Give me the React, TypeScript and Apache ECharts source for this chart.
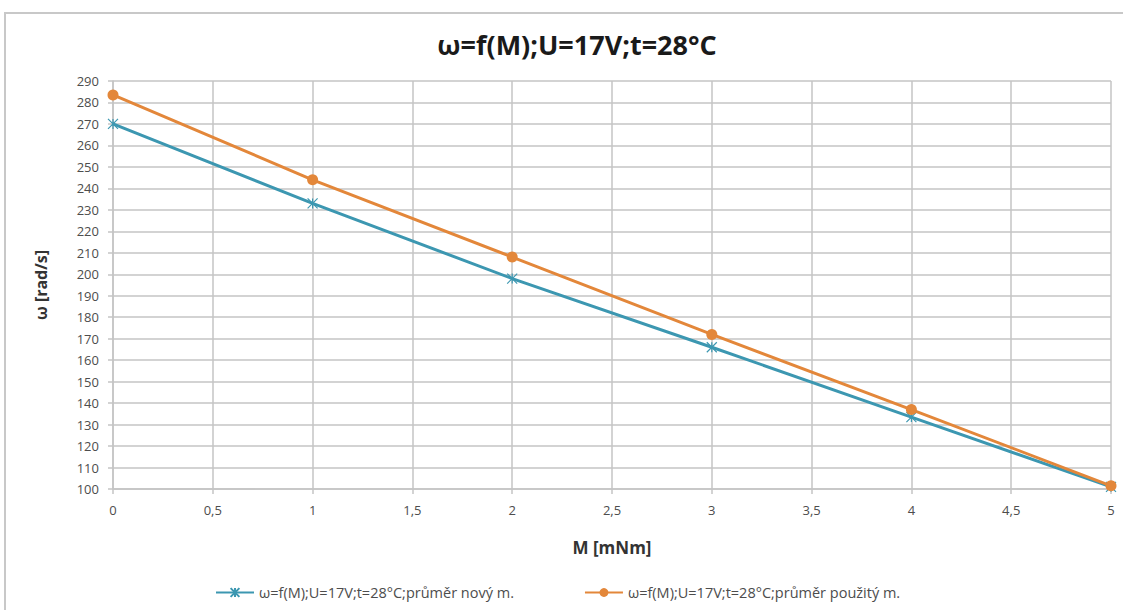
import React, { useEffect, useRef } from "react";
import * as echarts from "echarts";

const mValues = [0, 1, 2, 3, 4, 5];
const omegaNew = [270, 233, 198, 166, 133.5, 101];
const omegaUsed = [283.5, 244, 208, 172, 137, 101.5];
const seriesNames = [
  "ω=f(M);U=17V;t=28°C;průměr nový m.",
  "ω=f(M);U=17V;t=28°C;průměr použitý m.",
];
const titleText = "ω=f(M);U=17V;t=28°C";
const xName = "M [mNm]";
const yName = "ω [rad/s]";

const BLUE = "#3C97B1";
const ORANGE = "#E3873A";
const GRID = "#c4c4c4";
const LABEL = "#4d4d4d";

export default function App() {
  const ref = useRef<HTMLDivElement>(null);
  useEffect(() => {
    if (!ref.current) return;
    const chart = echarts.init(ref.current, null, { renderer: "svg" });
    const font = "'Open Sans', 'DejaVu Sans', sans-serif";
    chart.setOption({
      animation: false,
      backgroundColor: "#ffffff",
      textStyle: { fontFamily: font },
      title: {
        text: titleText,
        left: 572,
        textAlign: "center",
        top: 26,
        textStyle: { fontSize: 27, fontWeight: "bold", color: "#1a1a1a", fontFamily: font },
      },
      graphic: [
        {
          type: "rect",
          shape: { x: 5, y: 13, width: 1140, height: 620 },
          style: { fill: "none", stroke: "#c8c8c8", lineWidth: 2 },
          silent: true,
        },
      ],
      legend: {
        orient: "horizontal",
        bottom: 5,
        left: 210,
        itemWidth: 38,
        itemHeight: 11,
        itemGap: 70,
        textStyle: { fontSize: 14.5, color: LABEL, fontFamily: font },
        data: seriesNames,
      },
      grid: { left: 113, right: 12, top: 81, bottom: 121 },
      xAxis: {
        type: "value",
        min: 0,
        max: 5,
        interval: 0.5,
        name: xName,
        nameLocation: "middle",
        nameGap: 50,
        nameTextStyle: { fontSize: 17, fontWeight: "bold", color: "#333", fontFamily: font },
        axisLine: { show: true, lineStyle: { color: GRID, width: 1.5 } },
        axisTick: { show: true, length: 5, lineStyle: { color: GRID, width: 1.5 } },
        splitLine: { show: true, lineStyle: { color: GRID, width: 1.5 } },
        axisLabel: {
          fontSize: 13,
          color: LABEL,
          margin: 14,
          formatter: (v: number) => String(v).replace(".", ","),
        },
      },
      yAxis: {
        type: "value",
        min: 100,
        max: 290,
        interval: 10,
        name: yName,
        nameLocation: "middle",
        nameGap: 64,
        nameRotate: 90,
        nameTextStyle: { fontSize: 16, fontWeight: "bold", color: "#333", fontFamily: font },
        axisLine: { show: true, lineStyle: { color: GRID, width: 1.5 } },
        axisTick: { show: true, length: 5, lineStyle: { color: GRID, width: 1.5 } },
        splitLine: { show: true, lineStyle: { color: GRID, width: 1.5 } },
        axisLabel: { fontSize: 13, color: LABEL, margin: 14 },
      },
      series: [
        {
          name: seriesNames[0],
          type: "line",
          data: mValues.map((m, i) => [m, omegaNew[i]]),
          symbol: "path://M0,0 L10,10 M10,0 L0,10 M5,0 L5,10",
          symbolSize: 10,
          showAllSymbol: true,
          lineStyle: { color: BLUE, width: 3 },
          itemStyle: { color: "none", borderColor: BLUE, borderWidth: 1.2 },
          z: 3,
        },
        {
          name: seriesNames[1],
          type: "line",
          data: mValues.map((m, i) => [m, omegaUsed[i]]),
          symbol: "circle",
          symbolSize: 11,
          lineStyle: { color: ORANGE, width: 3 },
          itemStyle: { color: ORANGE },
          z: 4,
        },
      ],
    });
    return () => chart.dispose();
  }, []);
  return (
    <div
      ref={ref}
      style={{ position: "fixed", left: 0, top: 0, width: 1123, height: 610 }}
    />
  );
}
